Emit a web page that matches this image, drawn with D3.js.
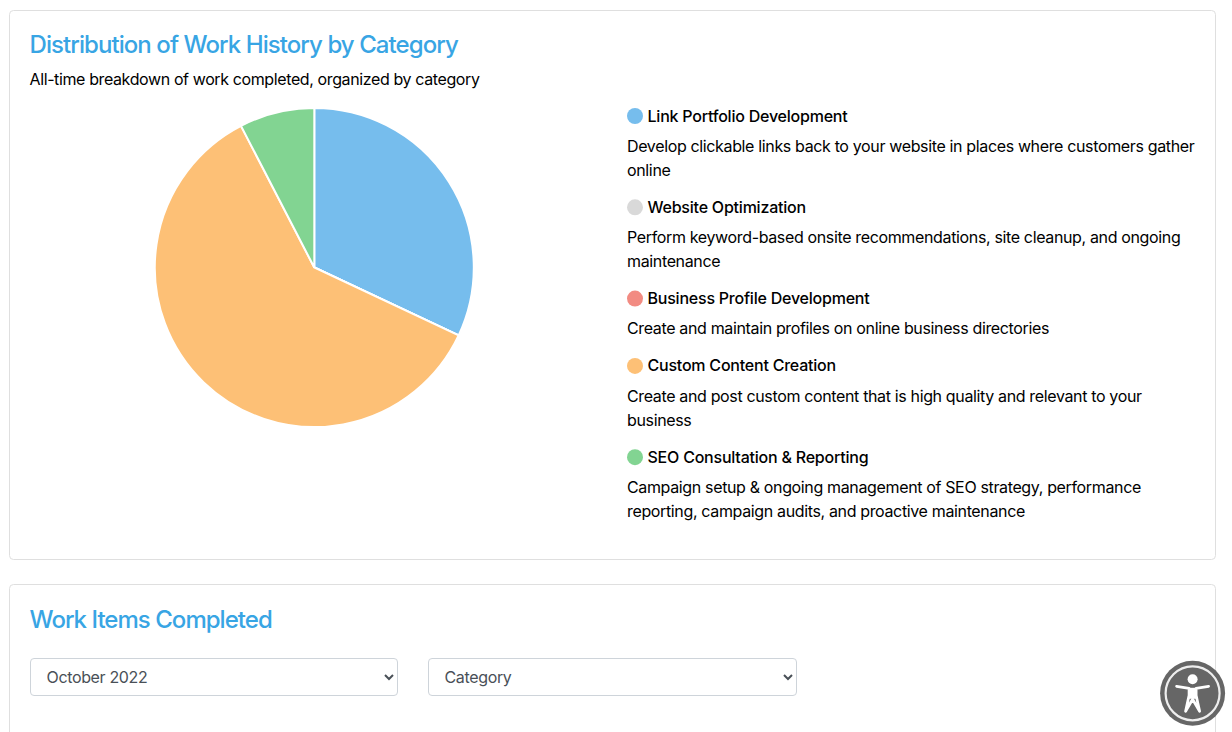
<!DOCTYPE html>
<html><head><meta charset="utf-8">
<script src="https://cdn.jsdelivr.net/npm/d3@7"></script>
<style>
html,body{margin:0;padding:0;background:#fff;overflow:hidden;width:1232px;height:732px;font-family:Inter,"Noto Sans",sans-serif}
svg{position:absolute;left:0;top:0}
select{position:absolute;box-sizing:border-box;height:38px;background:#fff;border:1px solid #ced4da;border-radius:4px;color:#495057;font:16px Inter,sans-serif;padding:0 11.5px;letter-spacing:-.35px}
</style></head><body>
<svg id="c" width="1232" height="732"></svg>
<select style="left:30px;top:658px;width:368px"><option>October 2022</option></select>
<select style="left:428px;top:658px;width:369px"><option>Category</option></select>
<script>
const categories=["Link Portfolio Development","Website Optimization","Business Profile Development","Custom Content Creation","SEO Consultation & Reporting"];
const values=[32,0,0,60.4,7.6];
const colors=["#76bded","#d9d9d9","#f28b82","#fdc076","#82d492"];
const descriptions=[
["Develop clickable links back to your website in places where customers gather","online"],
["Perform keyword-based onsite recommendations, site cleanup, and ongoing","maintenance"],
["Create and maintain profiles on online business directories"],
["Create and post custom content that is high quality and relevant to your","business"],
["Campaign setup & ongoing management of SEO strategy, performance","reporting, campaign audits, and proactive maintenance"]];
const title="Distribution of Work History by Category";
const subtitle="All-time breakdown of work completed, organized by category";
const title2="Work Items Completed";

const svg=d3.select("#c");
const font="Inter,'Noto Sans',sans-serif";
const card=(y,h)=>svg.append("rect").attr("x",9.5).attr("y",y).attr("width",1206).attr("height",h).attr("rx",4).attr("fill","#fff").attr("stroke","#dfdfdf");
card(10.5,549);card(584.5,200);
const txt=(x,y,s,size,fill,weight,ls)=>svg.append("text").attr("x",x).attr("y",y).text(s).attr("font-family",font).attr("font-size",size).attr("fill",fill).attr("font-weight",weight||400).attr("letter-spacing",ls||0);
txt(29.5,53,title,24,"#38a5e4",500,-.93);
txt(29.5,85,subtitle,16,"#000",400,-.385);
txt(29.5,628,title2,24,"#38a5e4",500,-.97);

const pie=d3.pie().sort(null).value(d=>d)(values);
const arc=d3.arc().innerRadius(0).outerRadius(159.5);
svg.append("g").attr("transform","translate(314.3,267.5)").selectAll("path").data(pie).join("path")
 .attr("d",arc).attr("fill",(d,i)=>colors[i]).attr("stroke","#fff").attr("stroke-width",2);

const lh=24;let y=116;
categories.forEach((c,i)=>{
 svg.append("circle").attr("cx",635).attr("cy",y).attr("r",8).attr("fill",colors[i]);
 txt(647.5,y+5.5,c,16,"#000",500,-.22);
 descriptions[i].forEach((l,j)=>txt(627,y+35.8+j*lh,l,16,"#000",400,-.355));
 y+=67.3+(descriptions[i].length-1)*lh;
});

// accessibility badge
const b=svg.append("g").attr("transform","translate(1192.6,693.3)");
b.append("circle").attr("r",32.5).attr("fill","#666");
b.append("circle").attr("r",27).attr("fill","none").attr("stroke","#eee").attr("stroke-width",2.2);
b.append("circle").attr("cy",-14).attr("r",5).attr("fill","#fff");
b.append("path").attr("d","M-16,-7 L-3.5,-5 L-3.5,2 L-7,18 M16,-7 L3.5,-5 L3.5,2 L7,18 M0,6 L-7,18 M0,6 L7,18").attr("fill","none").attr("stroke","#fff").attr("stroke-width",2.8).attr("stroke-linecap","round").attr("stroke-linejoin","round");
b.append("rect").attr("x",-4).attr("y",-5.5).attr("width",8).attr("height",11).attr("fill","#fff");
</script></body></html>
